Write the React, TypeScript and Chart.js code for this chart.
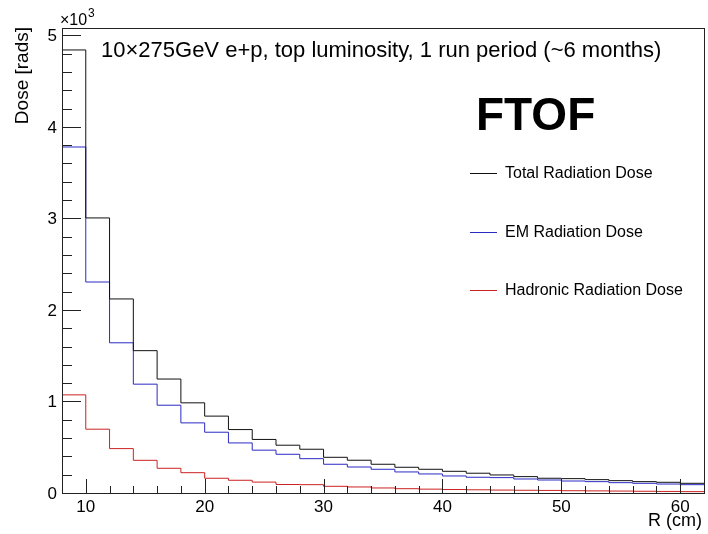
import React, { useEffect, useRef } from "react";
import { Chart, registerables } from "chart.js";

Chart.register(...registerables);

// Bin edges in R (cm)
const binEdges = [8, 10, 12, 14, 16, 18, 20, 22, 24, 26, 28, 30, 32, 34, 36, 38, 40, 42, 44, 46, 48, 50, 52, 54, 56, 58, 60, 62];

// Dose per bin [rads]
const totalDose = [4840, 3005, 2120, 1555, 1245, 985, 840, 693, 585, 522, 478, 390, 358, 314, 281, 259, 237, 216, 197, 179, 161, 157, 146, 135, 124, 117, 106];
const emDose = [3780, 2305, 1641, 1189, 959, 766, 664, 547, 468, 423, 375, 314, 284, 259, 230, 208, 186, 172, 168, 153, 142, 131, 124, 113, 106, 98, 91];
const hadronicDose = [1072, 697, 485, 357, 270, 222, 161, 139, 119, 93, 91, 73, 66, 55, 47, 42, 38, 35, 32, 30, 28, 25, 23, 21, 19, 17, 15];

const seriesLabels = ["Total Radiation Dose", "EM Radiation Dose", "Hadronic Radiation Dose"];
const seriesColors = ["#111111", "#2a2ac4", "#cc2222"];

const xMajorTicks = [10, 20, 30, 40, 50, 60];
const xTickLabels = ["10", "20", "30", "40", "50", "60"];
const yMajorTicks = [0, 1000, 2000, 3000, 4000, 5000];
const yTickLabels = ["0", "1", "2", "3", "4", "5"];

const titleText = "10\u00d7275GeV e+p, top luminosity, 1 run period (~6 months)";
const tagText = "FTOF";
const xTitle = "R (cm)";
const yTitle = "Dose [rads]";

const FONT = "'Liberation Sans', Arial, Helvetica, sans-serif";

// histogram as step points: value of bin i held from edge i to edge i+1
function toSteps(vals: number[]) {
  return binEdges.map((e, i) => ({ x: e, y: vals[Math.min(i, vals.length - 1)] }));
}

const rootStyle = {
  id: "rootStyle",
  afterDraw(chart: any) {
    const ctx = chart.ctx as CanvasRenderingContext2D;
    const xs = chart.scales.x;
    const ys = chart.scales.y;
    const a = chart.chartArea;
    ctx.save();
    // frame
    ctx.strokeStyle = "#222";
    ctx.lineWidth = 1;
    ctx.strokeRect(Math.round(a.left) + 0.5, Math.round(a.top) + 0.5, Math.round(a.right - a.left), Math.round(a.bottom - a.top));

    // x ticks (inward)
    ctx.beginPath();
    for (let v = 8; v <= 62; v += 2) {
      const px = Math.round(xs.getPixelForValue(v)) + 0.5;
      const major = xMajorTicks.includes(v);
      const len = major ? 14 : 7;
      ctx.moveTo(px, a.bottom);
      ctx.lineTo(px, a.bottom - len);
    }
    // y ticks (inward)
    for (let v = 0; v <= 5000; v += 200) {
      const py = Math.round(ys.getPixelForValue(v)) + 0.5;
      const major = v % 1000 === 0;
      const len = major ? 19 : 10;
      ctx.moveTo(a.left, py);
      ctx.lineTo(a.left + len, py);
    }
    ctx.stroke();

    // tick labels
    ctx.fillStyle = "#000";
    ctx.font = `17px ${FONT}`;
    ctx.textAlign = "center";
    ctx.textBaseline = "middle";
    xMajorTicks.forEach((v, i) => {
      ctx.fillText(xTickLabels[i], xs.getPixelForValue(v), a.bottom + 14);
    });
    ctx.textAlign = "right";
    yMajorTicks.forEach((v, i) => {
      ctx.fillText(yTickLabels[i], a.left - 5, ys.getPixelForValue(v) + 1);
    });

    // exponent label
    ctx.textAlign = "left";
    ctx.textBaseline = "alphabetic";
    ctx.font = `16px ${FONT}`;
    ctx.fillText("\u00d710", 60, 25);
    ctx.font = `12px ${FONT}`;
    ctx.fillText("3", 88, 17);

    // axis titles
    ctx.font = `18px ${FONT}`;
    ctx.textAlign = "right";
    ctx.textBaseline = "alphabetic";
    ctx.fillText(xTitle, a.right - 2, 526);
    ctx.save();
    ctx.translate(28, a.top - 1);
    ctx.rotate(-Math.PI / 2);
    ctx.font = `19px ${FONT}`;
    ctx.textAlign = "right";
    ctx.fillText(yTitle, 0, 0);
    ctx.restore();

    // title
    ctx.font = `22px ${FONT}`;
    ctx.textAlign = "left";
    ctx.textBaseline = "alphabetic";
    ctx.fillText(titleText, 101, 57);

    // tag
    ctx.font = `bold 46px ${FONT}`;
    ctx.fillText(tagText, 476, 130);

    // legend
    const rows = [173, 232, 290];
    ctx.font = `16px ${FONT}`;
    ctx.textBaseline = "middle";
    chart.data.datasets.forEach((ds: any, i: number) => {
      ctx.strokeStyle = ds.borderColor;
      ctx.beginPath();
      ctx.moveTo(470, rows[i] + 0.5);
      ctx.lineTo(497, rows[i] + 0.5);
      ctx.stroke();
      ctx.fillStyle = "#000";
      ctx.fillText(ds.label, 505, rows[i] + 1);
    });
    ctx.restore();
  },
};

const bgPlugin = {
  id: "bg",
  beforeDraw(chart: any) {
    const ctx = chart.ctx;
    ctx.save();
    ctx.fillStyle = "#fff";
    ctx.fillRect(0, 0, chart.width, chart.height);
    ctx.restore();
  },
};

export default function App() {
  const ref = useRef<HTMLCanvasElement | null>(null);
  useEffect(() => {
    if (!ref.current) return;
    const series = [totalDose, emDose, hadronicDose];
    const chart = new Chart(ref.current, {
      type: "line",
      data: {
        datasets: series.map((vals, i) => ({
          label: seriesLabels[i],
          data: toSteps(vals),
          borderColor: seriesColors[i],
          backgroundColor: seriesColors[i],
          borderWidth: 1,
          pointRadius: 0,
          fill: false,
          stepped: "before" as const,
          tension: 0,
        })),
      },
      options: {
        responsive: false,
        animation: false,
        devicePixelRatio: 1,
        layout: { padding: { left: 62, top: 28, right: 4, bottom: 41 } },
        plugins: { legend: { display: false }, tooltip: { enabled: false }, title: { display: false } },
        scales: {
          x: { type: "linear", min: 8, max: 62, display: false },
          y: { type: "linear", min: 0, max: 5080, display: false },
        },
      },
      plugins: [bgPlugin, rootStyle],
    });
    return () => chart.destroy();
  }, []);
  return (
    <div style={{ position: "fixed", left: 0, top: 0, width: 708, height: 534, background: "#fff" }}>
      <canvas ref={ref} width={708} height={534} style={{ display: "block" }} />
    </div>
  );
}
